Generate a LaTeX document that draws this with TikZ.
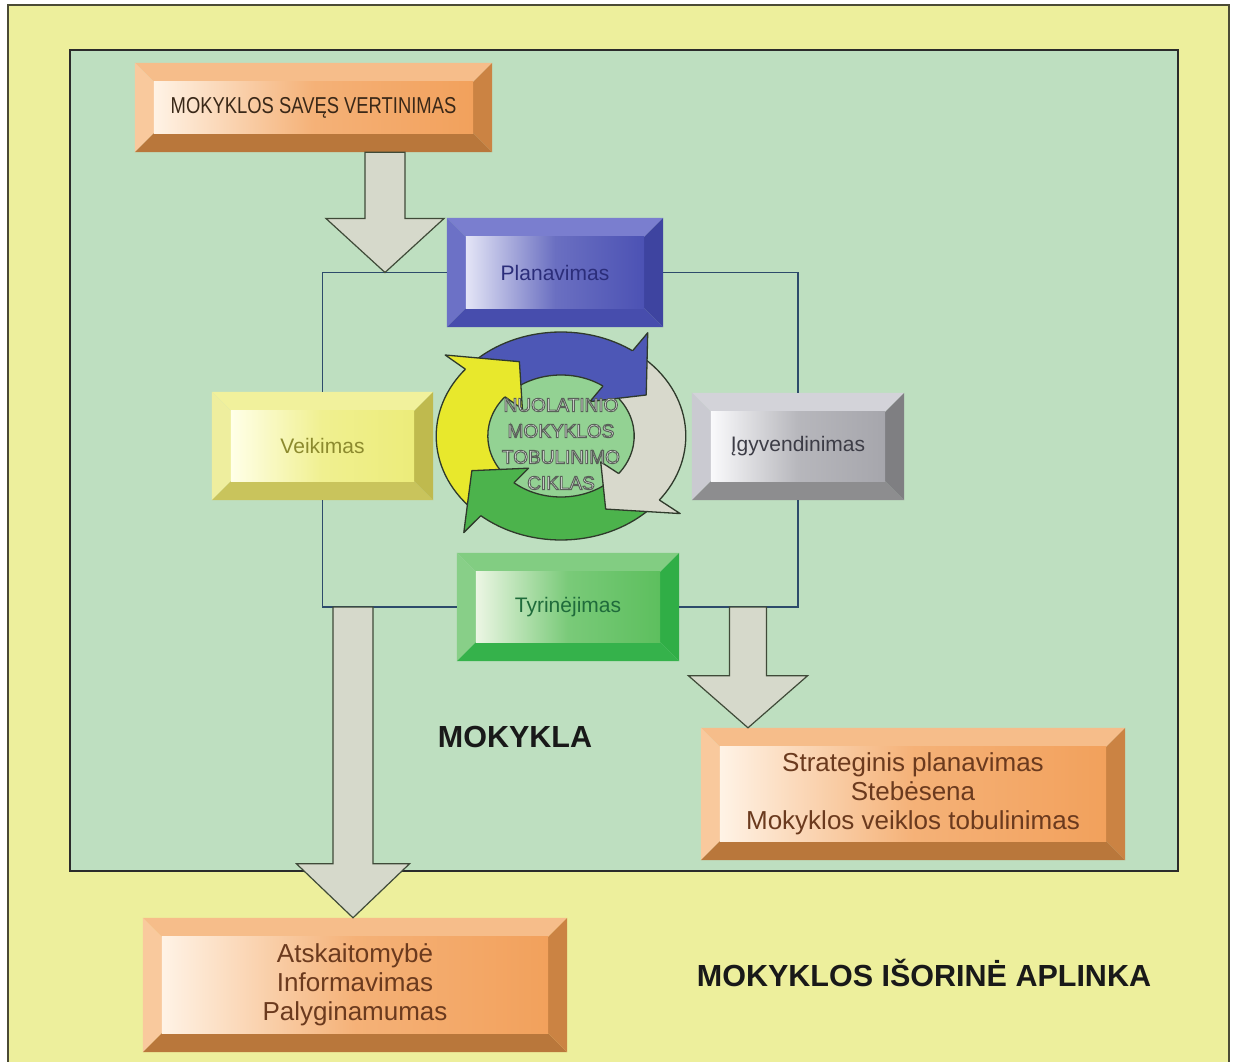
\documentclass[tikz,border=0pt]{standalone}
\usepackage{fontspec}
\setmainfont{Liberation Sans}
\newfontfamily\narrowsans{Liberation Sans}[FakeStretch=0.8]
\usetikzlibrary{calc,backgrounds}

\definecolor{outerbg}{HTML}{EDEF9C}
\definecolor{schoolbg}{HTML}{BEDFC0}
\definecolor{frameolive}{HTML}{4B4B35}
\definecolor{framedark}{HTML}{2B2B2B}
\definecolor{linkblue}{HTML}{2D4B6B}
\definecolor{arrowfill}{HTML}{D6D9CB}
\definecolor{arrowedge}{HTML}{3F4A38}
\definecolor{cycleedge}{HTML}{2F3A2B}
\definecolor{cyccore}{HTML}{93D293}
\definecolor{cycblue}{HTML}{4D57B6}
\definecolor{cycgrey}{HTML}{D8D9CC}
\definecolor{cycgreen}{HTML}{4CB34C}
\definecolor{cycyellow}{HTML}{E8E82C}
\definecolor{mosvtext}{HTML}{3A2818}
\definecolor{browntext}{HTML}{6B3A1E}
\definecolor{plantext}{HTML}{2B2D7A}
\definecolor{veiktext}{HTML}{8C8A2E}
\definecolor{igytext}{HTML}{3C3C46}
\definecolor{tyrtext}{HTML}{1F6B3B}
% bevel palettes: top, left, bottom, right, face light, face dark
\definecolor{ortop}{HTML}{F6BD8A}\definecolor{orleft}{HTML}{F9C99D}\definecolor{orbot}{HTML}{B9773B}
\definecolor{orright}{HTML}{CB8343}\definecolor{orlight}{HTML}{FFF3E6}\definecolor{ordark}{HTML}{F2A15C}
\definecolor{bltop}{HTML}{7A7ECF}\definecolor{blleft}{HTML}{6C71C6}\definecolor{blbot}{HTML}{474DAD}
\definecolor{blright}{HTML}{3E44A0}\definecolor{bllight}{HTML}{E4E5F6}\definecolor{bldark}{HTML}{4C52B4}
\definecolor{yetop}{HTML}{F1F19C}\definecolor{yeleft}{HTML}{EEEE9E}\definecolor{yebot}{HTML}{C9C45C}
\definecolor{yeright}{HTML}{BFBA4E}\definecolor{yelight}{HTML}{FFFFE8}\definecolor{yedark}{HTML}{ECEC7A}
\definecolor{grtop}{HTML}{D3D3D9}\definecolor{grleft}{HTML}{CACAD1}\definecolor{grbot}{HTML}{8D8D8F}
\definecolor{grright}{HTML}{7F7F82}\definecolor{grlight}{HTML}{FAFAFC}\definecolor{grdark}{HTML}{A6A6AC}
\definecolor{gntop}{HTML}{82CD82}\definecolor{gnleft}{HTML}{88CF88}\definecolor{gnbot}{HTML}{35B24B}
\definecolor{gnright}{HTML}{30AE46}\definecolor{gnlight}{HTML}{ECF6E4}\definecolor{gndark}{HTML}{5DBF5E}

\def\bw{19}
\newcommand\bevel[2]{%
  \fill[#2top] (#1.north west) -- (#1.north east) -- ([shift={(-\bw,\bw)}]#1.north east) -- ([shift={(\bw,\bw)}]#1.north west) -- cycle;
  \fill[#2left] (#1.north west) -- ([shift={(\bw,\bw)}]#1.north west) -- ([shift={(\bw,-\bw)}]#1.south west) -- (#1.south west) -- cycle;
  \fill[#2bot] (#1.south west) -- ([shift={(\bw,-\bw)}]#1.south west) -- ([shift={(-\bw,-\bw)}]#1.south east) -- (#1.south east) -- cycle;
  \fill[#2right] (#1.south east) -- ([shift={(-\bw,-\bw)}]#1.south east) -- ([shift={(-\bw,\bw)}]#1.north east) -- (#1.north east) -- cycle;
  \shade[left color=#2light, right color=#2dark, middle color=#2dark!80!#2light] ([shift={(\bw,\bw)}]#1.north west) rectangle ([shift={(-\bw,-\bw)}]#1.south east);}

\newcommand\blockarrow[5]{%
  \draw[blockarr] let \p1=(#1), \p2=(#2) in
    (\x1-#3pt,\y1) -- (\x1-#3pt,\y2+#5pt) -- (\x1-#4pt,\y2+#5pt) -- (\x2,\y2)
    -- (\x1+#4pt,\y2+#5pt) -- (\x1+#3pt,\y2+#5pt) -- (\x1+#3pt,\y1) -- cycle;}

\def\ro{104} \def\ri{61} \def\rm{82} \def\rb{126} \def\ra{42}
\newcommand\cyclebody[3]{%
  \filldraw[cyc, fill=#1] (#2:\ro) arc[start angle=#2, end angle=#3-4, radius=\ro]
    -- (#3-4:\ri) arc[start angle=#3-4, end angle=#2, radius=\ri] -- cycle;}
\newcommand\cyclehead[3]{%
  \fill[#1] (#2:\ro) -- (#2:\rb) -- (#3:\rm) -- (#2:\ra) -- (#2:\ri) -- cycle;
  \draw[cyc] (#2:\ro) -- (#2:\rb) -- (#3:\rm) -- (#2:\ra) -- (#2:\ri);}

\newcommand\outlinetext[1]{\special{pdf:literal direct 2 Tr 1 w 0.35 0.38 0.35 RG}#1\special{pdf:literal direct 0 Tr}}

\tikzset{
  bevelnode/.style={inner sep=0pt, align=center, font=\fontsize{21}{25}\selectfont},
  listnode/.style={bevelnode, text=browntext, minimum width=424, font=\fontsize{26}{29}\selectfont},
  link/.style={draw=linkblue, line width=1.3pt},
  blockarr/.style={draw=arrowedge, fill=arrowfill, line width=1.2pt, line join=miter},
  cyc/.style={draw=cycleedge, line width=1.3pt, line join=round},
  coretext/.style={text=white, align=center, font=\fontsize{19}{26}\selectfont},
  caption/.style={font=\bfseries\fontsize{30.5}{36}\selectfont, text=black!90}
}

\begin{document}
\begin{tikzpicture}[x=1pt, y=-1pt]
  \useasboundingbox (0,0) rectangle (1235,1062);

  \node[bevelnode, minimum width=357, minimum height=89, text=mosvtext, font=\narrowsans\fontsize{23}{27}\selectfont] (selfeval) at (313.5,107.5) {MOKYKLOS SAVĘS VERTINIMAS};
  \node[bevelnode, minimum width=216, minimum height=109, text=plantext] (plan) at (555,272.5) {Planavimas};
  \node[bevelnode, minimum width=221, minimum height=108, text=veiktext] (veik) at (322.5,446) {Veikimas};
  \node[bevelnode, minimum width=212, minimum height=107, text=igytext] (igy) at (798,446.5) {Įgyvendinimas};
  \node[bevelnode, minimum width=222, minimum height=108, text=tyrtext] (tyr) at (568,607) {Tyrinėjimas};
  \node[listnode, minimum height=132] (strat) at (913,794) {Strateginis planavimas\\Stebėsena\\Mokyklos veiklos tobulinimas};
  \node[listnode, minimum height=134] (atsk) at (355,985) {Atskaitomybė\\Informavimas\\Palyginamumas};

  \begin{scope}[on background layer]
    \fill[outerbg] (8,5) rectangle (1229,1075);
    \draw[frameolive, line width=1.5pt] (8,1075) -- (8,5) -- (1229,5) -- (1229,1075);
    \filldraw[fill=schoolbg, draw=framedark, line width=1.5pt] (70,50) rectangle (1178,871);
    \bevel{selfeval}{or}
    \bevel{strat}{or}
    \bevel{atsk}{or}
    \bevel{plan}{bl}
    \bevel{veik}{ye}
    \bevel{igy}{gr}
    \bevel{tyr}{gn}
  \end{scope}

  \draw[link] (plan.west) -| (veik.north);
  \draw[link] (veik.south) |- (tyr.west);
  \draw[link] (tyr.east) -| (igy.south);
  \draw[link] (igy.north) |- (plan.east);

  \coordinate (entry) at (385,272.5);
  \coordinate (reportout) at (353,607);
  \coordinate (planout) at (748,607);
  \blockarrow{selfeval.south -| entry}{entry}{20}{59}{54}
  \blockarrow{reportout}{atsk.north -| reportout}{20}{56.5}{54}
  \blockarrow{planout}{strat.north -| planout}{18.5}{59.5}{52}

  \begin{scope}[shift={(561,436)}, x=1.2pt, y=1pt]
    \filldraw[fill=cyccore, cyc] (0,0) ellipse[x radius=65, y radius=65];
    \cyclebody{cycblue}{135}{55}
    \cyclebody{cycgrey}{48}{-38}
    \cyclebody{cycgreen}{-45}{-130}
    \cyclebody{cycyellow}{225}{140}
    \cyclehead{cycblue}{55}{30}
    \cyclehead{cycgrey}{-38}{-63}
    \cyclehead{cycgreen}{-130}{-155}
    \cyclehead{cycyellow}{140}{115}
    \node[coretext] (cyclecentre) at (0,-8) {\outlinetext{NUOLATINIO\\MOKYKLOS\\TOBULINIMO\\CIKLAS}};
  \end{scope}

  \node[caption] (school) at (515,737) {MOKYKLA};
  \node[caption] (outside) at (924,973) {MOKYKLOS IŠORINĖ APLINKA};
\end{tikzpicture}
\end{document}
